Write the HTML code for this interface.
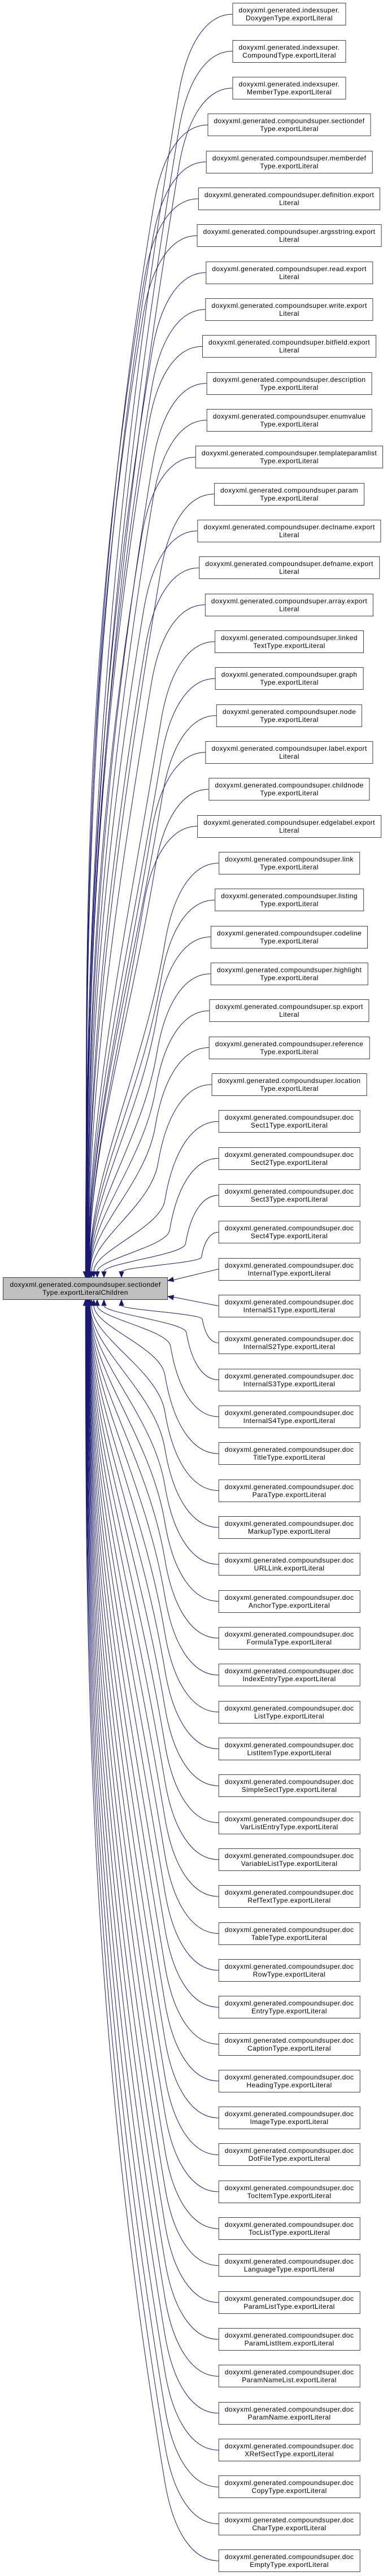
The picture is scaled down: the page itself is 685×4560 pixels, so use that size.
<!DOCTYPE html>
<html><head><meta charset="utf-8">
<style>
html,body{margin:0;padding:0;background:#fff;width:685px;height:4560px;overflow:hidden;}
#wrap{position:relative;width:685px;height:4560px;}
svg{position:absolute;left:0;top:0;}
.n{position:absolute;left:512px;transform:translateX(-50%);height:40px;box-sizing:border-box;border:1px solid #404040;background:#fff;padding:0 10px;display:flex;flex-direction:column;justify-content:center;align-items:center;white-space:nowrap;font-family:"Liberation Sans",sans-serif;font-size:12px;letter-spacing:0.45px;line-height:14px;color:#000;text-align:center;}
.m{position:absolute;left:5px;top:2261px;width:292px;height:40px;box-sizing:border-box;border:1px solid #404040;background:#bfbfbf;display:flex;flex-direction:column;justify-content:center;align-items:center;white-space:nowrap;font-family:"Liberation Sans",sans-serif;font-size:12px;letter-spacing:0.45px;line-height:14px;text-align:center;}
</style></head><body><div id="wrap">
<svg id="sv" width="685" height="4560"></svg>
<div class="m">doxyxml.generated.compoundsuper.sectiondef<br>Type.exportLiteralChildren</div>
<div id="nodes">
<div class="n">doxyxml.generated.indexsuper.<br>DoxygenType.exportLiteral</div>
<div class="n">doxyxml.generated.indexsuper.<br>CompoundType.exportLiteral</div>
<div class="n">doxyxml.generated.indexsuper.<br>MemberType.exportLiteral</div>
<div class="n">doxyxml.generated.compoundsuper.sectiondef<br>Type.exportLiteral</div>
<div class="n">doxyxml.generated.compoundsuper.memberdef<br>Type.exportLiteral</div>
<div class="n">doxyxml.generated.compoundsuper.definition.export<br>Literal</div>
<div class="n">doxyxml.generated.compoundsuper.argsstring.export<br>Literal</div>
<div class="n">doxyxml.generated.compoundsuper.read.export<br>Literal</div>
<div class="n">doxyxml.generated.compoundsuper.write.export<br>Literal</div>
<div class="n">doxyxml.generated.compoundsuper.bitfield.export<br>Literal</div>
<div class="n">doxyxml.generated.compoundsuper.description<br>Type.exportLiteral</div>
<div class="n">doxyxml.generated.compoundsuper.enumvalue<br>Type.exportLiteral</div>
<div class="n">doxyxml.generated.compoundsuper.templateparamlist<br>Type.exportLiteral</div>
<div class="n">doxyxml.generated.compoundsuper.param<br>Type.exportLiteral</div>
<div class="n">doxyxml.generated.compoundsuper.declname.export<br>Literal</div>
<div class="n">doxyxml.generated.compoundsuper.defname.export<br>Literal</div>
<div class="n">doxyxml.generated.compoundsuper.array.export<br>Literal</div>
<div class="n">doxyxml.generated.compoundsuper.linked<br>TextType.exportLiteral</div>
<div class="n">doxyxml.generated.compoundsuper.graph<br>Type.exportLiteral</div>
<div class="n">doxyxml.generated.compoundsuper.node<br>Type.exportLiteral</div>
<div class="n">doxyxml.generated.compoundsuper.label.export<br>Literal</div>
<div class="n">doxyxml.generated.compoundsuper.childnode<br>Type.exportLiteral</div>
<div class="n">doxyxml.generated.compoundsuper.edgelabel.export<br>Literal</div>
<div class="n">doxyxml.generated.compoundsuper.link<br>Type.exportLiteral</div>
<div class="n">doxyxml.generated.compoundsuper.listing<br>Type.exportLiteral</div>
<div class="n">doxyxml.generated.compoundsuper.codeline<br>Type.exportLiteral</div>
<div class="n">doxyxml.generated.compoundsuper.highlight<br>Type.exportLiteral</div>
<div class="n">doxyxml.generated.compoundsuper.sp.export<br>Literal</div>
<div class="n">doxyxml.generated.compoundsuper.reference<br>Type.exportLiteral</div>
<div class="n">doxyxml.generated.compoundsuper.location<br>Type.exportLiteral</div>
<div class="n">doxyxml.generated.compoundsuper.doc<br>Sect1Type.exportLiteral</div>
<div class="n">doxyxml.generated.compoundsuper.doc<br>Sect2Type.exportLiteral</div>
<div class="n">doxyxml.generated.compoundsuper.doc<br>Sect3Type.exportLiteral</div>
<div class="n">doxyxml.generated.compoundsuper.doc<br>Sect4Type.exportLiteral</div>
<div class="n">doxyxml.generated.compoundsuper.doc<br>InternalType.exportLiteral</div>
<div class="n">doxyxml.generated.compoundsuper.doc<br>InternalS1Type.exportLiteral</div>
<div class="n">doxyxml.generated.compoundsuper.doc<br>InternalS2Type.exportLiteral</div>
<div class="n">doxyxml.generated.compoundsuper.doc<br>InternalS3Type.exportLiteral</div>
<div class="n">doxyxml.generated.compoundsuper.doc<br>InternalS4Type.exportLiteral</div>
<div class="n">doxyxml.generated.compoundsuper.doc<br>TitleType.exportLiteral</div>
<div class="n">doxyxml.generated.compoundsuper.doc<br>ParaType.exportLiteral</div>
<div class="n">doxyxml.generated.compoundsuper.doc<br>MarkupType.exportLiteral</div>
<div class="n">doxyxml.generated.compoundsuper.doc<br>URLLink.exportLiteral</div>
<div class="n">doxyxml.generated.compoundsuper.doc<br>AnchorType.exportLiteral</div>
<div class="n">doxyxml.generated.compoundsuper.doc<br>FormulaType.exportLiteral</div>
<div class="n">doxyxml.generated.compoundsuper.doc<br>IndexEntryType.exportLiteral</div>
<div class="n">doxyxml.generated.compoundsuper.doc<br>ListType.exportLiteral</div>
<div class="n">doxyxml.generated.compoundsuper.doc<br>ListItemType.exportLiteral</div>
<div class="n">doxyxml.generated.compoundsuper.doc<br>SimpleSectType.exportLiteral</div>
<div class="n">doxyxml.generated.compoundsuper.doc<br>VarListEntryType.exportLiteral</div>
<div class="n">doxyxml.generated.compoundsuper.doc<br>VariableListType.exportLiteral</div>
<div class="n">doxyxml.generated.compoundsuper.doc<br>RefTextType.exportLiteral</div>
<div class="n">doxyxml.generated.compoundsuper.doc<br>TableType.exportLiteral</div>
<div class="n">doxyxml.generated.compoundsuper.doc<br>RowType.exportLiteral</div>
<div class="n">doxyxml.generated.compoundsuper.doc<br>EntryType.exportLiteral</div>
<div class="n">doxyxml.generated.compoundsuper.doc<br>CaptionType.exportLiteral</div>
<div class="n">doxyxml.generated.compoundsuper.doc<br>HeadingType.exportLiteral</div>
<div class="n">doxyxml.generated.compoundsuper.doc<br>ImageType.exportLiteral</div>
<div class="n">doxyxml.generated.compoundsuper.doc<br>DotFileType.exportLiteral</div>
<div class="n">doxyxml.generated.compoundsuper.doc<br>TocItemType.exportLiteral</div>
<div class="n">doxyxml.generated.compoundsuper.doc<br>TocListType.exportLiteral</div>
<div class="n">doxyxml.generated.compoundsuper.doc<br>LanguageType.exportLiteral</div>
<div class="n">doxyxml.generated.compoundsuper.doc<br>ParamListType.exportLiteral</div>
<div class="n">doxyxml.generated.compoundsuper.doc<br>ParamListItem.exportLiteral</div>
<div class="n">doxyxml.generated.compoundsuper.doc<br>ParamNameList.exportLiteral</div>
<div class="n">doxyxml.generated.compoundsuper.doc<br>ParamName.exportLiteral</div>
<div class="n">doxyxml.generated.compoundsuper.doc<br>XRefSectType.exportLiteral</div>
<div class="n">doxyxml.generated.compoundsuper.doc<br>CopyType.exportLiteral</div>
<div class="n">doxyxml.generated.compoundsuper.doc<br>CharType.exportLiteral</div>
<div class="n">doxyxml.generated.compoundsuper.doc<br>EmptyType.exportLiteral</div>
</div>
</div>
<script>
(function(){
var ns=document.querySelectorAll('#nodes .n');
for(var i=0;i<ns.length;i++){ns[i].style.top=(5.3+65.33*i).toFixed(1)+'px';}
var C='#191970',out='';
function xEnd(d){if(d==1)return 215;if(d==2)return 184;if(d==3)return 172;if(d==4)return 166;if(d==5)return 162;return 160-(d-5)*0.3;}
function arrow(tx,ty,dx,dy){var l=Math.sqrt(dx*dx+dy*dy);dx/=l;dy/=l;var bx=tx-dx*10,by=ty-dy*10,px=-dy*4,py=dx*4;
return '<polygon points="'+tx+','+ty+' '+(bx+px).toFixed(1)+','+(by+py).toFixed(1)+' '+(bx-px).toFixed(1)+','+(by-py).toFixed(1)+'" fill="'+C+'" stroke="'+C+'"/>';}
for(var i=0;i<ns.length;i++){
 var r=ns[i].getBoundingClientRect();var L=r.left,cy=r.top+r.height/2;var idx=i+1;
 if(idx==35||idx==36){var ty=idx==35?2267:2295;
  out+='<path d="M'+L+','+cy+' L307,'+(ty+(cy-ty)*0.06)+'" stroke="'+C+'" fill="none"/>';
  out+=arrow(297,ty,297-L,ty-cy);continue;}
 var top=idx<35;var d=top?35-idx:idx-36;var xe=xEnd(d);
 var tipY=top?2261:2301;var ye=top?tipY-10:tipY+10;var s=top?1:-1;
 var dy=Math.abs(ye-cy);var k=Math.min(1,dy/220);
 var qx=L-95*k,qy=cy+s*140*k;
 var p='M'+L+','+cy+' C'+(L-45*k)+','+cy+' '+(L-80*k)+','+(cy+s*50*k)+' '+qx+','+qy;
 var rem=Math.abs(ye-qy);
 var tx=-15,tyv=90*s;var tl=Math.sqrt(tx*tx+tyv*tyv);
 var c1x=qx+tx/tl*rem*0.4,c1y=qy+tyv/tl*rem*0.4;
 p+=' C'+c1x.toFixed(1)+','+c1y.toFixed(1)+' '+xe+','+(ye-s*rem*0.3).toFixed(1)+' '+xe+','+ye;
 out+='<path d="'+p+'" stroke="'+C+'" fill="none"/>';
 out+=arrow(xe,tipY,0,s);
}
document.getElementById('sv').innerHTML=out;
})();
</script>
</body></html>
